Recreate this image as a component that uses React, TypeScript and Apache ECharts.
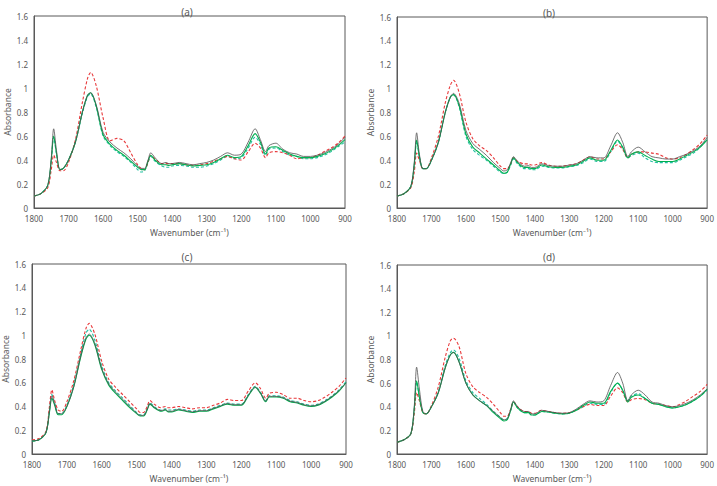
import React, { useEffect, useRef } from "react";
import * as echarts from "echarts";

const WAVENUMBERS = [1800,1780,1760,1750,1743,1735,1725,1715,1700,1680,1660,1645,1636,1620,1600,1580,1560,1540,1520,1500,1490,1480,1470,1462,1450,1430,1418,1410,1400,1380,1360,1340,1320,1300,1280,1260,1240,1220,1200,1180,1160,1145,1130,1120,1100,1080,1060,1040,1020,1000,980,960,940,920,900];

const PANEL_TITLES = ["(a)", "(b)", "(c)", "(d)"];
const Y_TICKS = [0, 0.2, 0.4, 0.6, 0.8, 1, 1.2, 1.4, 1.6];
const X_TICKS = [1800, 1700, 1600, 1500, 1400, 1300, 1200, 1100, 1000, 900];

// Panel (a)
const A_BLACK = [0.10,0.12,0.19,0.42,0.66,0.48,0.32,0.33,0.40,0.55,0.80,0.94,0.96,0.86,0.63,0.55,0.50,0.46,0.41,0.35,0.33,0.33,0.40,0.46,0.42,0.37,0.38,0.37,0.37,0.38,0.37,0.36,0.37,0.38,0.40,0.43,0.46,0.44,0.45,0.55,0.66,0.57,0.47,0.52,0.54,0.49,0.46,0.45,0.43,0.43,0.44,0.46,0.49,0.53,0.59];
const A_GREEN = [0.10,0.12,0.19,0.40,0.60,0.46,0.32,0.33,0.40,0.55,0.80,0.94,0.96,0.85,0.61,0.53,0.48,0.44,0.39,0.34,0.32,0.32,0.39,0.44,0.40,0.36,0.36,0.355,0.36,0.37,0.36,0.35,0.355,0.36,0.38,0.41,0.44,0.42,0.43,0.52,0.62,0.55,0.45,0.50,0.51,0.48,0.45,0.43,0.42,0.42,0.43,0.45,0.48,0.52,0.57];
const A_RED = [0.10,0.12,0.17,0.32,0.44,0.38,0.31,0.31,0.38,0.57,0.88,1.08,1.13,1.02,0.75,0.56,0.58,0.56,0.46,0.36,0.33,0.32,0.38,0.44,0.41,0.37,0.37,0.37,0.37,0.37,0.36,0.355,0.36,0.37,0.39,0.41,0.43,0.41,0.40,0.47,0.54,0.50,0.42,0.46,0.47,0.46,0.44,0.41,0.42,0.42,0.44,0.47,0.50,0.54,0.60];
const A_TEAL = [0.10,0.12,0.19,0.39,0.59,0.45,0.32,0.33,0.40,0.55,0.79,0.93,0.95,0.84,0.60,0.52,0.47,0.43,0.38,0.32,0.30,0.31,0.38,0.43,0.39,0.35,0.34,0.34,0.35,0.355,0.35,0.34,0.34,0.35,0.37,0.40,0.43,0.41,0.42,0.50,0.59,0.53,0.44,0.49,0.50,0.47,0.44,0.43,0.41,0.41,0.42,0.44,0.47,0.51,0.55];

// Panel (b)
const B_BLACK = [0.10,0.12,0.18,0.38,0.63,0.45,0.33,0.33,0.40,0.55,0.80,0.93,0.96,0.88,0.65,0.54,0.49,0.44,0.38,0.33,0.31,0.32,0.38,0.43,0.39,0.35,0.355,0.34,0.34,0.37,0.355,0.35,0.35,0.36,0.37,0.40,0.43,0.42,0.42,0.52,0.63,0.55,0.43,0.47,0.51,0.47,0.43,0.42,0.41,0.41,0.43,0.45,0.48,0.52,0.59];
const B_GREEN = [0.10,0.12,0.18,0.36,0.57,0.43,0.33,0.33,0.40,0.55,0.80,0.93,0.95,0.86,0.62,0.51,0.46,0.41,0.36,0.31,0.29,0.30,0.37,0.42,0.38,0.34,0.34,0.33,0.33,0.36,0.345,0.34,0.34,0.35,0.36,0.39,0.42,0.40,0.40,0.48,0.57,0.51,0.42,0.45,0.47,0.44,0.41,0.39,0.39,0.39,0.41,0.44,0.47,0.51,0.57];
const B_RED = [0.10,0.12,0.17,0.30,0.46,0.40,0.33,0.33,0.42,0.60,0.88,1.03,1.07,0.97,0.72,0.58,0.52,0.48,0.42,0.35,0.33,0.33,0.37,0.42,0.39,0.37,0.37,0.36,0.36,0.38,0.36,0.35,0.35,0.36,0.37,0.40,0.43,0.41,0.41,0.47,0.53,0.49,0.42,0.45,0.47,0.47,0.46,0.45,0.42,0.41,0.42,0.45,0.49,0.54,0.61];
const B_TEAL = [0.10,0.12,0.18,0.35,0.56,0.43,0.33,0.33,0.40,0.55,0.80,0.93,0.95,0.85,0.60,0.49,0.44,0.40,0.35,0.30,0.29,0.30,0.36,0.41,0.37,0.33,0.33,0.32,0.32,0.35,0.34,0.335,0.335,0.345,0.355,0.38,0.41,0.39,0.39,0.47,0.56,0.50,0.42,0.44,0.46,0.42,0.39,0.38,0.38,0.38,0.40,0.43,0.46,0.51,0.58];

// Panel (c)
const C_BLACK = [0.11,0.12,0.18,0.36,0.49,0.42,0.34,0.34,0.40,0.57,0.83,0.98,1.01,0.93,0.72,0.59,0.52,0.46,0.40,0.345,0.325,0.325,0.375,0.425,0.395,0.365,0.375,0.36,0.36,0.375,0.365,0.355,0.365,0.365,0.385,0.405,0.425,0.415,0.415,0.495,0.565,0.515,0.445,0.485,0.485,0.475,0.445,0.435,0.415,0.405,0.415,0.445,0.485,0.535,0.60];
const C_GREEN = [0.11,0.12,0.18,0.35,0.47,0.41,0.33,0.33,0.40,0.57,0.82,0.97,1.00,0.92,0.71,0.58,0.51,0.45,0.39,0.34,0.32,0.32,0.37,0.42,0.39,0.36,0.37,0.355,0.355,0.37,0.36,0.35,0.36,0.36,0.38,0.40,0.42,0.41,0.41,0.49,0.56,0.51,0.44,0.48,0.48,0.47,0.44,0.43,0.41,0.40,0.41,0.44,0.48,0.53,0.60];
const C_RED = [0.12,0.13,0.19,0.40,0.54,0.45,0.37,0.36,0.44,0.62,0.88,1.06,1.10,1.01,0.78,0.63,0.56,0.50,0.44,0.38,0.35,0.35,0.40,0.45,0.42,0.39,0.40,0.39,0.39,0.40,0.39,0.38,0.39,0.39,0.41,0.43,0.46,0.45,0.45,0.53,0.60,0.55,0.47,0.51,0.52,0.50,0.47,0.47,0.45,0.44,0.45,0.48,0.52,0.57,0.64];
const C_TEAL = [0.11,0.12,0.18,0.37,0.50,0.43,0.34,0.34,0.41,0.59,0.85,1.02,1.05,0.96,0.74,0.60,0.53,0.47,0.41,0.35,0.33,0.33,0.38,0.43,0.40,0.37,0.38,0.37,0.37,0.38,0.37,0.36,0.37,0.37,0.39,0.41,0.43,0.42,0.42,0.50,0.57,0.52,0.45,0.49,0.49,0.48,0.45,0.44,0.42,0.41,0.42,0.45,0.49,0.54,0.61];

// Panel (d)
const D_BLACK = [0.10,0.12,0.17,0.40,0.735,0.55,0.36,0.34,0.40,0.52,0.73,0.84,0.86,0.78,0.60,0.50,0.45,0.41,0.36,0.31,0.29,0.30,0.38,0.45,0.40,0.36,0.36,0.34,0.34,0.37,0.36,0.35,0.345,0.35,0.38,0.42,0.45,0.44,0.45,0.58,0.69,0.60,0.45,0.50,0.54,0.50,0.44,0.43,0.41,0.40,0.41,0.43,0.46,0.50,0.55];
const D_GREEN = [0.10,0.12,0.17,0.38,0.62,0.48,0.35,0.34,0.40,0.52,0.73,0.84,0.86,0.78,0.60,0.50,0.45,0.41,0.35,0.30,0.28,0.29,0.37,0.44,0.39,0.35,0.35,0.33,0.33,0.36,0.355,0.345,0.34,0.345,0.37,0.41,0.44,0.43,0.43,0.53,0.60,0.54,0.44,0.48,0.50,0.47,0.43,0.42,0.40,0.39,0.40,0.42,0.45,0.49,0.55];
const D_RED = [0.10,0.12,0.17,0.34,0.52,0.45,0.35,0.34,0.41,0.57,0.82,0.96,0.98,0.91,0.68,0.57,0.52,0.48,0.42,0.35,0.32,0.32,0.38,0.44,0.40,0.36,0.36,0.345,0.345,0.37,0.36,0.35,0.345,0.35,0.37,0.40,0.42,0.41,0.41,0.49,0.56,0.52,0.44,0.46,0.47,0.46,0.43,0.42,0.41,0.40,0.42,0.45,0.49,0.53,0.59];
const D_TEAL = [0.10,0.12,0.17,0.37,0.61,0.48,0.35,0.34,0.40,0.53,0.75,0.86,0.88,0.81,0.62,0.52,0.47,0.42,0.36,0.31,0.29,0.30,0.37,0.44,0.39,0.35,0.35,0.33,0.33,0.36,0.355,0.345,0.34,0.345,0.37,0.40,0.43,0.42,0.42,0.52,0.60,0.54,0.45,0.49,0.51,0.47,0.43,0.42,0.40,0.39,0.40,0.42,0.45,0.49,0.54];

const PANELS = [
  { black: A_BLACK, green: A_GREEN, red: A_RED, teal: A_TEAL },
  { black: B_BLACK, green: B_GREEN, red: B_RED, teal: B_TEAL },
  { black: C_BLACK, green: C_GREEN, red: C_RED, teal: C_TEAL },
  { black: D_BLACK, green: D_GREEN, red: D_RED, teal: D_TEAL },
];

const GRIDS = [
  { left: 34, top: 16, width: 311, height: 192 },
  { left: 397, top: 17, width: 311, height: 191 },
  { left: 32, top: 264, width: 314, height: 190 },
  { left: 397, top: 265, width: 311, height: 189 },
];
const TITLE_POS = [
  { left: 182, top: 2 },
  { left: 544, top: 3 },
  { left: 182, top: 247 },
  { left: 544, top: 247 },
];

const TEXT = "#595959";
const FONT = "Noto Sans";

export default function App() {
  const ref = useRef<HTMLDivElement>(null);
  useEffect(() => {
    document.body.style.margin = "0";
    if (!ref.current) return;
    const chart = echarts.init(ref.current, undefined, { renderer: "svg" });
    const pairs = (ys: number[]) => WAVENUMBERS.map((x, i) => [x, ys[i]]);
    const styles = [
      { key: "teal", color: "#20BFA0", type: [3, 2], width: 1.1 },
      { key: "red", color: "#E8383A", type: [3, 2], width: 1.1 },
      { key: "green", color: "#00B050", type: "solid", width: 1.1 },
      { key: "black", color: "#505050", type: "solid", width: 0.8 },
    ];
    const series: any[] = [];
    PANELS.forEach((p: any, gi) => {
      styles.forEach((s) => {
        series.push({
          type: "line",
          xAxisIndex: gi,
          yAxisIndex: gi,
          data: pairs(p[s.key]),
          smooth: 0.3,
          showSymbol: false,
          symbol: "none",
          lineStyle: { color: s.color, width: s.width, type: s.type },
          z: 3,
        });
      });
    });
    chart.setOption({
      animation: false,
      textStyle: { fontFamily: FONT },
      title: PANEL_TITLES.map((t, i) => ({
        text: t,
        left: TITLE_POS[i].left,
        top: TITLE_POS[i].top,
        textAlign: "center",
        textStyle: { fontSize: 10, fontWeight: "normal", color: TEXT, fontFamily: FONT },
      })),
      grid: GRIDS.map((g) => ({
        ...g,
        show: true,
        borderColor: "#595959",
        borderWidth: 1,
        backgroundColor: "transparent",
        containLabel: false,
      })),
      xAxis: GRIDS.map((_, i) => ({
        type: "value",
        gridIndex: i,
        min: X_TICKS[X_TICKS.length - 1],
        max: X_TICKS[0],
        interval: 100,
        inverse: true,
        name: "Wavenumber (cm\u207B\u00B9)",
        nameLocation: "middle",
        nameGap: 20,
        nameTextStyle: { fontSize: 8.5, color: TEXT, fontFamily: FONT },
        axisLine: { show: true, lineStyle: { color: "#595959", width: 1 } },
        axisTick: { show: false },
        splitLine: { show: false },
        axisLabel: { fontSize: 8, color: TEXT, margin: 6, fontFamily: FONT, formatter: (v: number) => String(v) },
      })),
      yAxis: GRIDS.map((_, i) => ({
        type: "value",
        gridIndex: i,
        min: Y_TICKS[0],
        max: Y_TICKS[Y_TICKS.length - 1],
        interval: 0.2,
        name: "Absorbance",
        nameLocation: "middle",
        nameGap: 22,
        nameTextStyle: { fontSize: 8.5, color: TEXT, fontFamily: FONT },
        axisLine: { show: true, lineStyle: { color: "#595959", width: 1 } },
        axisTick: { show: false },
        splitLine: { show: false },
        axisLabel: { fontSize: 8, color: TEXT, margin: 6, fontFamily: FONT, formatter: (v: number) => String(Math.round(v * 10) / 10) },
      })),
      series,
    });
    return () => chart.dispose();
  }, []);
  return <div ref={ref} style={{ width: 717, height: 486 }} />;
}
